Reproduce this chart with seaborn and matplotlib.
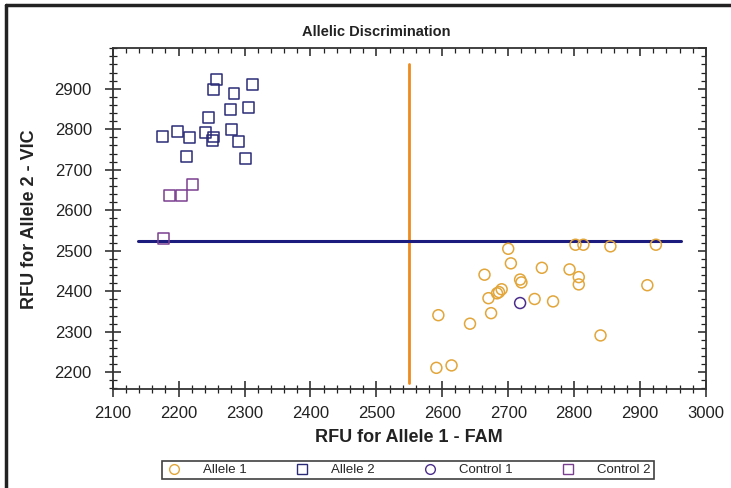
import numpy as np
import pandas as pd
import matplotlib
matplotlib.use("Agg")
import matplotlib.pyplot as plt
from matplotlib.ticker import MultipleLocator
from matplotlib.lines import Line2D
import seaborn as sns

# ---- data ----
allele1_x = [2700, 2802, 2814, 2855, 2924, 2704, 2751, 2793, 2664, 2807, 2718, 2720, 2807,
             2911, 2690, 2686, 2683, 2670, 2740, 2768, 2674, 2594, 2642, 2840, 2614, 2591]
allele1_y = [2505, 2515, 2515, 2511, 2515, 2469, 2458, 2454, 2441, 2435, 2429, 2422, 2417,
             2415, 2405, 2398, 2395, 2383, 2381, 2375, 2346, 2341, 2320, 2291, 2217, 2211]
allele2_x = [2258, 2253, 2312, 2284, 2278, 2306, 2245, 2199, 2175, 2216, 2241, 2280, 2253,
             2252, 2291, 2212, 2301]
allele2_y = [2923, 2898, 2910, 2889, 2850, 2853, 2829, 2795, 2783, 2780, 2792, 2799, 2781,
             2773, 2771, 2732, 2729]
control1_x = [2718]
control1_y = [2371]
control2_x = [2221, 2186, 2205, 2177]
control2_y = [2664, 2637, 2637, 2531]

vline_x = [2550, 2550]
vline_y = [2173, 2962]
hline_x = [2139, 2962]
hline_y = [2525, 2525]

groups = ["Allele 1", "Allele 2", "Control 1", "Control 2"]
xs = [allele1_x, allele2_x, control1_x, control2_x]
ys = [allele1_y, allele2_y, control1_y, control2_y]

df = pd.concat([pd.DataFrame({"x": x, "y": y, "group": g}) for g, x, y in zip(groups, xs, ys)],
               ignore_index=True)

colors = {"Allele 1": "#E2A63A", "Allele 2": "#2B2B78",
          "Control 1": "#4B2E8C", "Control 2": "#7A3F8F"}
markers = {"Allele 1": "o", "Allele 2": "s", "Control 1": "o", "Control 2": "s"}

sns.set_theme(style="white")
FONT = ["Liberation Sans Narrow", "Liberation Sans", "DejaVu Sans"]
plt.rcParams["font.family"] = FONT

W, H = 731, 488
fig = plt.figure(figsize=(W / 100, H / 100), dpi=100)
ax = fig.add_axes([112.7 / W, 1 - 389.3 / H, (706 - 112.7) / W, (389.3 - 48.3) / H])

for g in groups:
    sub = df[df["group"] == g]
    sns.scatterplot(data=sub, x="x", y="y", ax=ax, marker=markers[g], s=62,
                    facecolor="none", edgecolor=colors[g], linewidth=1.1,
                    label=g, zorder=3)

ax.plot(vline_x, vline_y, color="#EE8A1E", lw=2.0, zorder=2)
ax.plot(hline_x, hline_y, color="#1C1C7E", lw=2.2, zorder=2)

ax.set_xlim(2100, 3000)
ax.set_ylim(2158, 3000)
ax.xaxis.set_major_locator(MultipleLocator(100))
ax.xaxis.set_minor_locator(MultipleLocator(20))
ax.yaxis.set_major_locator(MultipleLocator(100))
ax.yaxis.set_minor_locator(MultipleLocator(20))
ax.set_yticks(np.arange(2200, 3000, 100))

for s in ax.spines.values():
    s.set_color("#333333")
    s.set_linewidth(1.3)

ax.tick_params(axis="both", which="major", direction="inout", length=12, width=1.1,
               color="#222222", labelsize=12, labelcolor="#222222")
ax.tick_params(axis="both", which="minor", direction="inout", length=6, width=0.9,
               color="#222222")
ax.tick_params(axis="x", which="major", pad=6)
ax.tick_params(axis="y", which="major", pad=9)
ax.tick_params(bottom=True, left=True, top=False, right=False, which="both")

# top / right inward ticks
secx = ax.secondary_xaxis("top")
secx.xaxis.set_major_locator(MultipleLocator(100))
secx.xaxis.set_minor_locator(MultipleLocator(20))
secx.tick_params(which="major", direction="in", length=6, width=1.1, color="#222222",
                 labeltop=False)
secx.tick_params(which="minor", direction="in", length=3.5, width=0.9, color="#222222")
secx.spines["top"].set_visible(False)
secy = ax.secondary_yaxis("right")
secy.yaxis.set_major_locator(MultipleLocator(100))
secy.yaxis.set_minor_locator(MultipleLocator(20))
secy.tick_params(which="major", direction="in", length=6, width=1.1, color="#222222",
                 labelright=False)
secy.tick_params(which="minor", direction="in", length=3.5, width=0.9, color="#222222")
secy.spines["right"].set_visible(False)

ax.set_xlabel("RFU for Allele 1 - FAM", fontsize=13, fontweight="bold", color="#222222",
              labelpad=6)
ax.set_ylabel("RFU for Allele 2 - VIC", fontsize=13, fontweight="bold", color="#222222",
              labelpad=12)
ax.set_title("Allelic Discrimination", fontsize=10.5, fontweight="bold", color="#222222",
             pad=9, x=(376 - 112.7) / (706 - 112.7))

ax.get_legend().remove()
handles = [Line2D([], [], ls="none", marker=markers[g], markersize=7,
                  markerfacecolor="none", markeredgecolor=colors[g], markeredgewidth=1.0)
           for g in groups]
leg = fig.legend(handles, groups, loc="center", bbox_to_anchor=(408 / W, 1 - 470 / H),
                 ncol=4, frameon=True, fancybox=False, fontsize=9.5, handlelength=1.2,
                 handletextpad=1.6, columnspacing=3.6, borderpad=0.25,
                 edgecolor="#111111", borderaxespad=0)
leg.get_frame().set_linewidth(1.2)

# outer frame (left & top)
fig.add_artist(Line2D([6 / W, 6 / W], [0, 1 - 5 / H], transform=fig.transFigure,
                      color="#222222", lw=2.5))
fig.add_artist(Line2D([6 / W, 1], [1 - 5 / H, 1 - 5 / H], transform=fig.transFigure,
                      color="#222222", lw=2.5))

fig.savefig("out.png", dpi=100)
